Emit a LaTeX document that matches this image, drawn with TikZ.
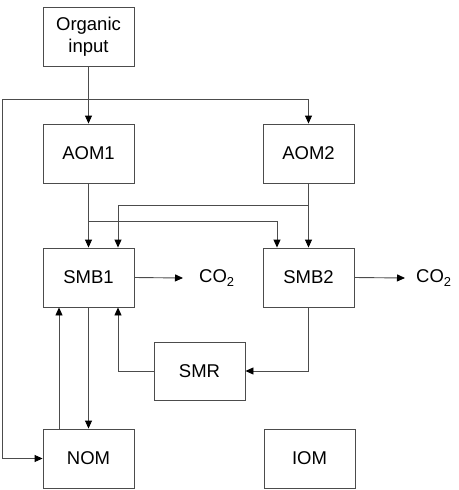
\documentclass[tikz,border=0pt]{standalone}
\usepackage{fontspec}
\setmainfont{Liberation Sans}
\usetikzlibrary{arrows.meta}

\tikzset{
  pool/.style={draw=black!70,line width=0.9pt,minimum width=91pt,minimum height=59pt,
    inner sep=0pt,align=center,font=\fontsize{18.5}{22}\selectfont},
  gas/.style={inner sep=0pt,anchor=west,font=\fontsize{18.5}{22}\selectfont},
  flow/.style={draw=black!70,line width=0.9pt,-{Triangle[length=8pt,width=7pt,color=black]}}
}

\begin{document}
\begin{tikzpicture}[x=1pt,y=-1pt]
            \useasboundingbox (0,0) rectangle (458,490);
            % pools
            \node[pool] (inp) at (88.5,37) {Organic\\input};
            \node[pool] (aom1) at (88.5,153.5) {AOM1};
            \node[pool] (aom2) at (308.5,153.5) {AOM2};
            \node[pool] (smb1) at (88.5,277.5) {SMB1};
            \node[pool] (smb2) at (308.5,277.5) {SMB2};
            \node[pool,minimum height=58pt] (smr) at (199.5,371) {SMR};
            \node[pool] (nom) at (88.5,458.5) {NOM};
            \node[pool] (iom) at (309.5,458.5) {IOM};
            \node[gas] (co2a) at (199,278) {CO\textsubscript{2}};
            \node[gas] (co2b) at (416,278) {CO\textsubscript{2}};
            \coordinate (split) at (2,99);
            % flows
            \draw[flow] (inp.south) -- (aom1.north);
            \draw[flow] (split) -| (aom2.north);
            \draw[flow] (split) |- (nom.west);
            \draw[flow] (aom1.south) -- (smb1.north);
            \draw[flow] (aom1.south |- 0,221) -| ([xshift=-31.5pt]smb2.north);
            \draw[flow] (aom2.south) -- (smb2.north);
            \draw[flow] (aom2.south |- 0,205) -| ([xshift=29.5pt]smb1.north);
            \draw[flow] (smb1.east) -- ([xshift=-16pt]co2a.west);
            \draw[flow] (smb2.east) -- ([xshift=-11pt]co2b.west);
            \draw[flow] (smb2.south) |- (smr.east);
            \draw[flow] (smr.west) -| ([xshift=29.5pt]smb1.south);
            \draw[flow] (smb1.south) -- (nom.north);
            \draw[flow] ([xshift=-29.5pt]nom.north) -- ([xshift=-29.5pt]smb1.south);
        \end{tikzpicture}
\end{document}
